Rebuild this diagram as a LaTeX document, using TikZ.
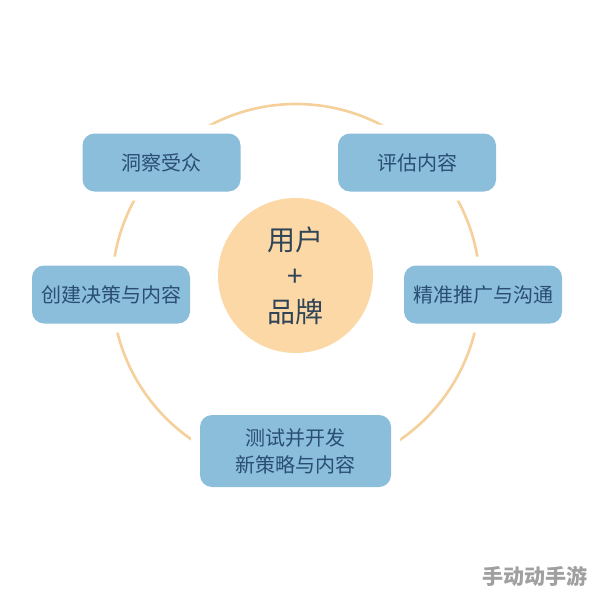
\documentclass[tikz,border=0pt]{standalone}
\usepackage{fontspec}
\setmainfont{Noto Sans CJK SC}
\usepackage{xcolor}
\definecolor{ringgold}{RGB}{245,208,155}
\definecolor{hubfill}{RGB}{251,216,166}
\definecolor{boxblue}{RGB}{139,190,219}
\definecolor{boxtext}{RGB}{42,78,114}
\definecolor{hubtext}{RGB}{48,68,88}
\definecolor{markgray}{RGB}{160,160,160}
\usepackage{tikz}
\usetikzlibrary{positioning}
\tikzset{
  stepbox/.style={rounded corners=12pt, fill=boxblue,
    preaction={draw=white, line width=18pt},
    minimum width=158pt, minimum height=58pt,
    align=center, text=boxtext,
    font=\fontsize{20}{27}\selectfont},
  hubdisc/.style={circle, fill=hubfill, minimum size=155pt,
    align=center, text=hubtext, inner sep=0pt,
    font=\fontsize{28}{36}\selectfont},
}

\begin{document}
\begin{tikzpicture}[x=1pt, y=-1pt]
  \useasboundingbox[fill=white] (0,0) rectangle (594,594);

  % Cycle ring
  \draw[ringgold, line width=2.6pt] (296,288) circle[radius=184];

  % Stages
  \node[stepbox] (insight) at (161.5,162.5) {洞察受众};
  \node[stepbox] (assess) at (417,162.5) {评估内容};
  \node[stepbox] (create) at (111,294.5) {创建决策与内容};
  \node[stepbox] (promote) at (483,294.5) {精准推广与沟通};
  \node[stepbox, minimum width=191pt, minimum height=72pt] (test)
    at (295.5,451) {测试并开发\\新策略与内容};

  % Hub
  \node[hubdisc] (hub) at (295.5,275.5) {用户\\+\\品牌};

  % Watermark
  \node[text=markgray, font=\fontsize{21}{21}\selectfont\bfseries]
    (mark) at (535,576) {手动动手游};
\end{tikzpicture}
\end{document}
